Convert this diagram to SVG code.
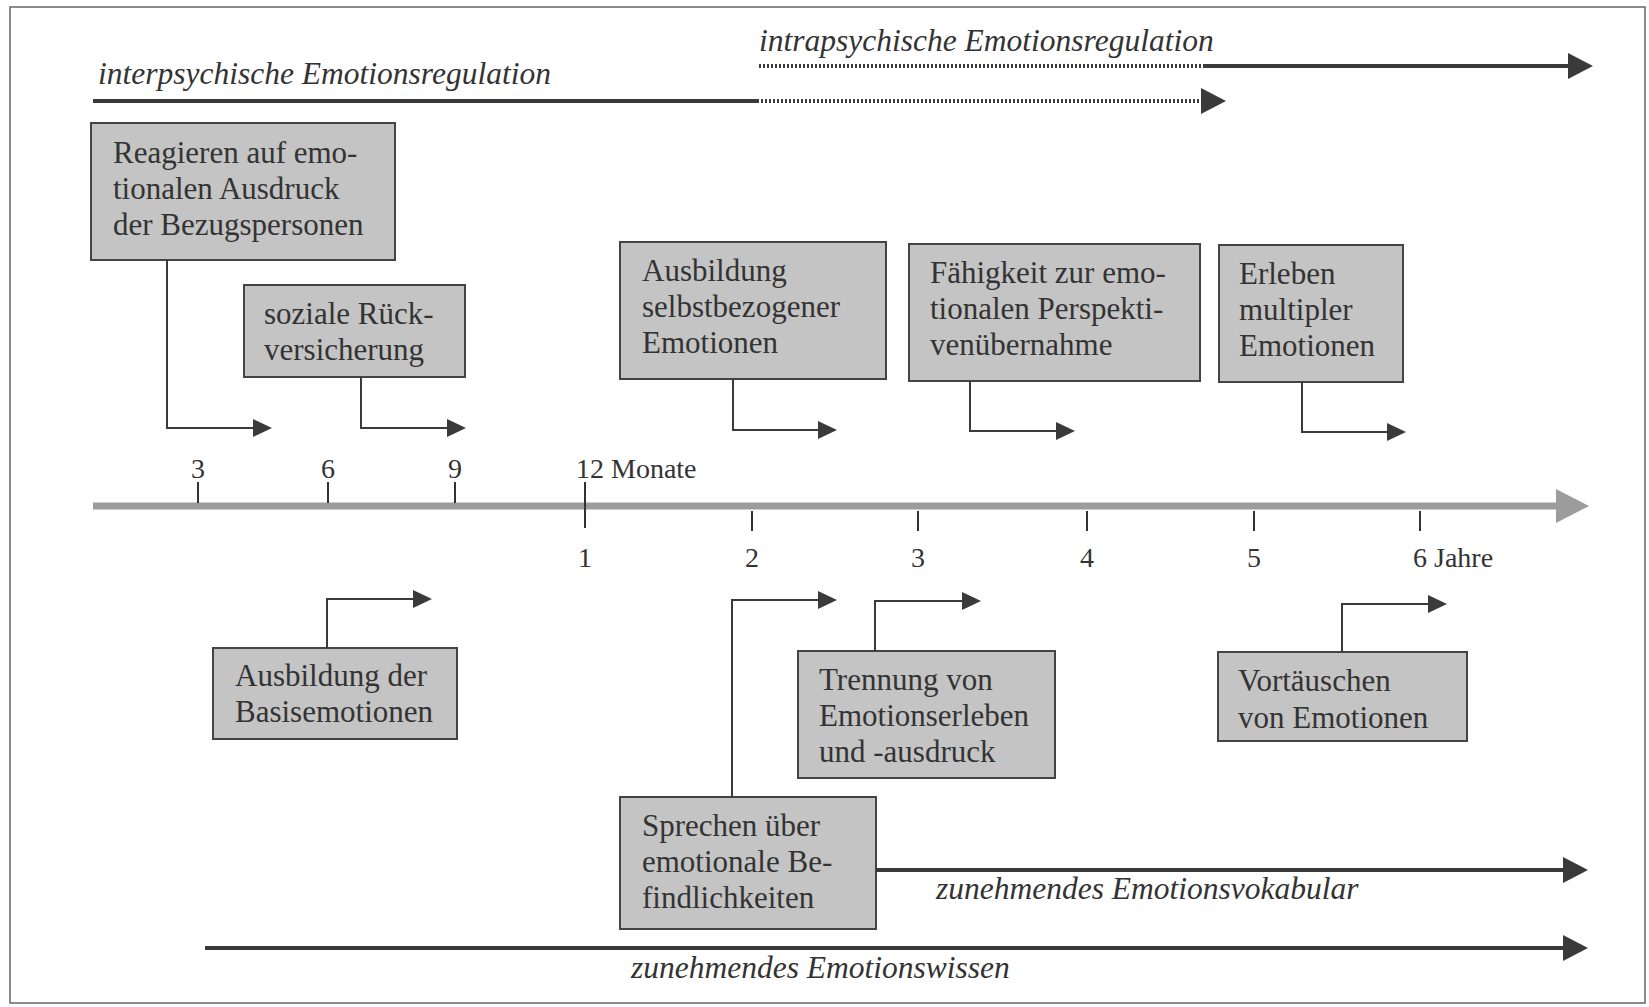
<svg xmlns="http://www.w3.org/2000/svg" width="1649" height="1007" viewBox="0 0 1649 1007">
<defs>
<style>
.box{fill:#c4c4c4;stroke:#444;stroke-width:2}
.t{font-family:"Liberation Serif","Times New Roman",serif;font-size:31px;fill:#333}
.it{font-family:"Liberation Serif","Times New Roman",serif;font-size:31.5px;font-style:italic;fill:#333}
.num{font-family:"Liberation Serif","Times New Roman",serif;font-size:28px;fill:#333}
.con{fill:none;stroke:#3a3a3a;stroke-width:2}
.big{fill:none;stroke:#3a3a3a;stroke-width:4}
.dot{fill:none;stroke:#3a3a3a;stroke-width:4;stroke-dasharray:2 2}
.tick{stroke:#333;stroke-width:2}
</style>
<marker id="sa" markerUnits="userSpaceOnUse" markerWidth="20" markerHeight="20" refX="10" refY="9" orient="auto" viewBox="0 0 20 20">
<path d="M0,0 L19,9 L0,18 z" fill="#3a3a3a"/>
</marker>
<marker id="ba" markerUnits="userSpaceOnUse" markerWidth="26" markerHeight="28" refX="12" refY="13" orient="auto" viewBox="0 0 26 28">
<path d="M0,0 L25,13 L0,26 z" fill="#3a3a3a"/>
</marker>
<marker id="ga" markerUnits="userSpaceOnUse" markerWidth="34" markerHeight="36" refX="14" refY="17" orient="auto" viewBox="0 0 34 36">
<path d="M0,0 L33,17 L0,34 z" fill="#9c9c9c"/>
</marker>
</defs>
<rect x="0" y="0" width="1649" height="1007" fill="#fff"/>
<rect x="10" y="7" width="1635" height="996" fill="none" stroke="#666" stroke-width="1.5"/>

<g id="regulation">
<text class="it" x="98" y="84">interpsychische Emotionsregulation</text>
<text class="it" x="759" y="51">intrapsychische Emotionsregulation</text>
</g>

<g id="timeline">
<path d="M93,506 L1570,506" stroke="#9c9c9c" stroke-width="7" fill="none" marker-end="url(#ga)"/>
<line class="tick" x1="198" y1="482" x2="198" y2="503"/>
<line class="tick" x1="328" y1="482" x2="328" y2="503"/>
<line class="tick" x1="455" y1="482" x2="455" y2="503"/>
<line class="tick" x1="585" y1="482" x2="585" y2="528"/>
<line class="tick" x1="752" y1="511" x2="752" y2="531"/>
<line class="tick" x1="918" y1="511" x2="918" y2="531"/>
<line class="tick" x1="1087" y1="511" x2="1087" y2="531"/>
<line class="tick" x1="1254" y1="511" x2="1254" y2="531"/>
<line class="tick" x1="1420" y1="511" x2="1420" y2="531"/>
<text class="num" x="198" y="478" text-anchor="middle">3</text>
<text class="num" x="328" y="478" text-anchor="middle">6</text>
<text class="num" x="455" y="478" text-anchor="middle">9</text>
<text class="num" x="576" y="478">12 Monate</text>
<text class="num" x="585" y="567" text-anchor="middle">1</text>
<text class="num" x="752" y="567" text-anchor="middle">2</text>
<text class="num" x="918" y="567" text-anchor="middle">3</text>
<text class="num" x="1087" y="567" text-anchor="middle">4</text>
<text class="num" x="1254" y="567" text-anchor="middle">5</text>
<text class="num" x="1413" y="567">6 Jahre</text>
</g>

<g id="n1">
<rect class="box" x="91" y="123" width="304" height="137"/>
<text class="t" x="113" y="163">Reagieren auf emo-</text>
<text class="t" x="113" y="199">tionalen Ausdruck</text>
<text class="t" x="113" y="235">der Bezugspersonen</text>
</g>
<g id="n2">
<rect class="box" x="244" y="285" width="221" height="92"/>
<text class="t" x="264" y="324">soziale Rück-</text>
<text class="t" x="264" y="360">versicherung</text>
</g>
<g id="n3">
<rect class="box" x="620" y="242" width="266" height="137"/>
<text class="t" x="642" y="281">Ausbildung</text>
<text class="t" x="642" y="317">selbstbezogener</text>
<text class="t" x="642" y="353">Emotionen</text>
</g>
<g id="n4">
<rect class="box" x="909" y="244" width="291" height="137"/>
<text class="t" x="930" y="283">Fähigkeit zur emo-</text>
<text class="t" x="930" y="319">tionalen Perspekti-</text>
<text class="t" x="930" y="355">venübernahme</text>
</g>
<g id="n5">
<rect class="box" x="1219" y="245" width="184" height="137"/>
<text class="t" x="1239" y="284">Erleben</text>
<text class="t" x="1239" y="320">multipler</text>
<text class="t" x="1239" y="356">Emotionen</text>
</g>
<g id="n6">
<rect class="box" x="213" y="648" width="244" height="91"/>
<text class="t" x="235" y="686">Ausbildung der</text>
<text class="t" x="235" y="722">Basisemotionen</text>
</g>
<g id="n7">
<rect class="box" x="620" y="797" width="256" height="132"/>
<text class="t" x="642" y="836">Sprechen über</text>
<text class="t" x="642" y="872">emotionale Be-</text>
<text class="t" x="642" y="908">findlichkeiten</text>
</g>
<g id="n8">
<rect class="box" x="798" y="651" width="257" height="127"/>
<text class="t" x="819" y="690">Trennung von</text>
<text class="t" x="819" y="726">Emotionserleben</text>
<text class="t" x="819" y="762">und -ausdruck</text>
</g>
<g id="n9">
<rect class="box" x="1218" y="652" width="249" height="89"/>
<text class="t" x="1238" y="691">Vortäuschen</text>
<text class="t" x="1238" y="728">von Emotionen</text>
</g>

<g id="labels">
<text class="it" x="936" y="899">zunehmendes Emotionsvokabular</text>
<text class="it" x="631" y="978">zunehmendes Emotionswissen</text>
</g>

<g id="connectors">
<path class="big" d="M93,101 L757,101"/>
<path class="dot" d="M757,101 L1213,101" marker-end="url(#ba)"/>
<path class="dot" d="M759,66 L1204,66"/>
<path class="big" d="M1204,66 L1580,66" marker-end="url(#ba)"/>
<path class="con" d="M167,260 L167,428 L263,428" marker-end="url(#sa)"/>
<path class="con" d="M361,377 L361,428 L457,428" marker-end="url(#sa)"/>
<path class="con" d="M733,379 L733,430 L828,430" marker-end="url(#sa)"/>
<path class="con" d="M970,381 L970,431 L1066,431" marker-end="url(#sa)"/>
<path class="con" d="M1302,382 L1302,432 L1397,432" marker-end="url(#sa)"/>
<path class="con" d="M327,648 L327,599 L423,599" marker-end="url(#sa)"/>
<path class="con" d="M732,797 L732,600 L828,600" marker-end="url(#sa)"/>
<path class="con" d="M875,651 L875,601 L972,601" marker-end="url(#sa)"/>
<path class="con" d="M1342,652 L1342,604 L1438,604" marker-end="url(#sa)"/>
<path class="big" d="M876,870 L1575,870" marker-end="url(#ba)"/>
<path class="big" d="M205,948 L1575,948" marker-end="url(#ba)"/>
</g>
</svg>
